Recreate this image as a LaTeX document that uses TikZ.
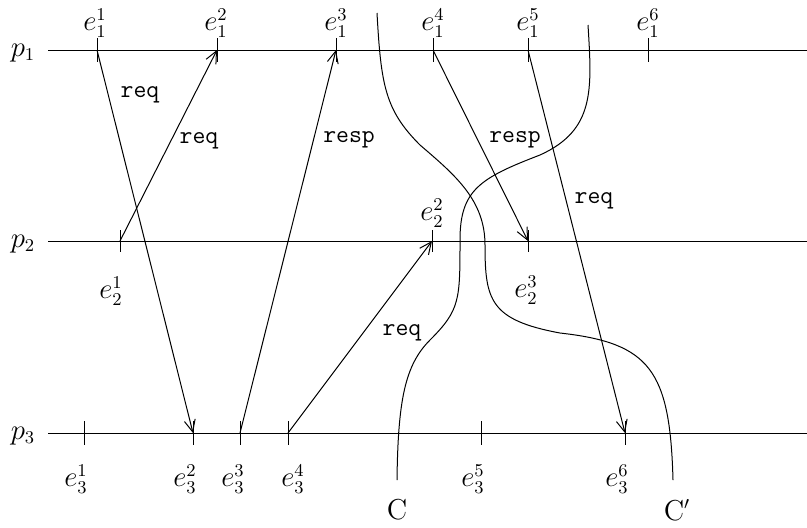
\documentclass[tikz,border=0pt]{standalone}
\usepackage{tikz}
\usetikzlibrary{arrows.meta,calc}

\tikzset{
  msg/.style={-{Straight Barb[length=6pt,width=5.5pt]}},
  msglabel/.style={font=\ttfamily\fontsize{12.5}{15}\selectfont},
  cutline/.style={line join=round},
}

\begin{document}
\begin{tikzpicture}[x=0.5pt, y=-0.5pt, line width=0.5pt, font=\fontsize{13.5}{16}\selectfont]
  \useasboundingbox (0,0) rectangle (807,527);

  % Process lines
  \foreach \i/\y in {1/50, 2/241, 3/433} {
    \node (p\i) at (23,\y+3) {$p_{\i}$};
    \coordinate (s\i) at (48,\y);
    \coordinate (t\i) at (807,\y);
    \draw (s\i) -- (t\i);
  }

  % Events on p1 (labels above)
  \foreach \n/\x/\dx in {1/97/-2, 2/217/-1, 3/336/0, 4/433/0, 5/528/0, 6/648/0} {
    \coordinate (e1\n) at (\x,50);
    \draw (e1\n) ++(0,-12) -- ++(0,24);
    \node (l1\n) at ($(e1\n)+(\dx,-27)$) {$e_1^{\n}$};
  }

  % Events on p2
  \foreach \n/\x in {1/120, 2/432, 3/528} {
    \coordinate (e2\n) at (\x,241);
    \draw (e2\n) ++(0,-11) -- ++(0,22);
  }
  \node (l21) at ($(e21)+(-9,50)$) {$e_2^1$};
  \node (l22) at ($(e22)+(0,-28)$) {$e_2^2$};
  \node (l23) at ($(e23)+(-2,49)$) {$e_2^3$};

  % Events on p3 (labels below)
  \foreach \n/\x/\dx in {1/84/-8, 2/193/-8, 3/240/-7, 4/288/5, 5/481/-8, 6/625/-8} {
    \coordinate (e3\n) at (\x,433);
    \draw (e3\n) ++(0,-12) -- ++(0,24);
    \node (l3\n) at ($(e3\n)+(\dx,46)$) {$e_3^{\n}$};
  }

  % Messages
  \draw[msg] (e11) -- (e32);
  \draw[msg] (e21) -- (e12);
  \draw[msg] (e33) -- (e13);
  \draw[msg] (e34) -- (e22);
  \draw[msg] (e14) -- (e23);
  \draw[msg] (e15) -- (e36);

  \node[msglabel] (m1) at (140,95) {req};
  \node[msglabel] (m2) at (199,141) {req};
  \node[msglabel] (m3) at (349,140) {resp};
  \node[msglabel] (m4) at (515,140) {resp};
  \node[msglabel] (m5) at (594,201) {req};
  \node[msglabel] (m6) at (402,333) {req};

  % Cuts
  \draw[cutline] (588,25) .. controls (592,90) and (595,130) .. (540,155)
    .. controls (480,178) and (460,190) .. (460,240)
    .. controls (460,300) and (460,310) .. (430,340)
    .. controls (405,365) and (398,400) .. (397,480);
  \draw[cutline] (377,13) .. controls (381,85) and (385,110) .. (420,145)
    .. controls (455,175) and (485,200) .. (485,245)
    .. controls (485,300) and (490,320) .. (560,333)
    .. controls (650,343) and (670,370) .. (673,480);

  \node (cutC) at (397,510) {$\mathrm{C}$};
  \node (cutCp) at (677,510) {$\mathrm{C}'$};
\end{tikzpicture}
\end{document}
